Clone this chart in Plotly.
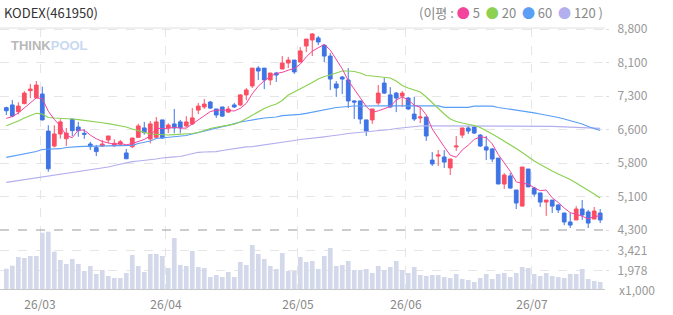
import plotly.graph_objects as go
from plotly.subplots import make_subplots
import pandas as pd

# ---------------- data ----------------
opens = [7040,7100,6950,7130,7420,7260,7345,6515,6180,6450,
         6345,6785,6605,6465,6225,6145,6180,6315,6185,6220,
         6025,6165,6375,6585,6340,6375,6765,6585,6675,6720,
         6630,6675,6985,7055,7165,7010,7055,6940,7100,7100,
         7325,7525,7925,7925,7660,7815,7905,8040,8105,8060,
         8420,8555,8600,8440,8195,7570,7725,7660,7190,7190,
         6765,6765,7145,7590,7325,7365,7300,7255,6895,6810,
         6830,5865,5955,5935,5690,6160,6425,6585,6605,6425,
         6160,6115,5910,5330,5510,5195,4835,5665,5240,5130,
         4925,4970,4860,4680,4480,4525,4770,4705,4545,4680]
highs = [7060,7210,7160,7410,7570,7635,7510,6645,6645,6780,
         6585,6785,6720,6560,6275,6205,6320,6405,6330,6315,
         6115,6360,6680,6720,6740,6830,6765,6690,7010,6765,
         6850,7030,7145,7235,7190,7010,7055,7075,7145,7345,
         7480,7925,7970,7925,7815,7840,8195,8175,8105,8395,
         8575,8710,8645,8440,8265,7635,7750,7925,7210,7190,
         6765,7010,7545,7705,7500,7390,7410,7280,7280,7055,
         6830,6045,6090,6090,5890,6405,6585,6630,6650,6450,
         6405,6135,5910,5575,5575,5195,5710,5665,5265,5130,
         4970,4970,4880,4680,4680,4835,4970,4750,4815,4770]
lows = [6875,6825,6890,7115,7250,7250,6755,5605,6150,6345,
        6180,6405,6390,6340,6090,5955,6165,6240,6165,6195,
        5890,6135,6375,6435,6240,6340,6340,6470,6465,6465,
        6595,6650,6895,7010,7010,6810,6830,6920,7030,7075,
        7210,7480,7660,7455,7545,7615,7905,7925,7795,8060,
        8285,8195,8440,8060,7435,7280,7345,7030,6785,6675,
        6405,6675,7100,7345,7030,6940,7055,6985,6740,6695,
        6295,5735,5735,5690,5530,6070,6360,6450,6450,6160,
        5865,5820,5330,5220,5220,4770,4835,5265,5040,4815,
        4615,4680,4680,4410,4345,4525,4525,4345,4545,4455]
closes = [6970,6850,7075,7365,7455,7545,6765,5670,6450,6720,
          6470,6525,6525,6445,6165,6055,6225,6405,6240,6275,
          5895,6360,6630,6480,6675,6720,6360,6650,6585,6590,
          6720,6810,7075,7120,7030,6875,6850,7010,7055,7325,
          7435,7925,7860,7660,7815,7770,8040,8105,7840,8310,
          8575,8690,8510,8195,7680,7480,7680,7190,7165,6785,
          6515,7010,7365,7365,7055,7255,7365,7010,6785,6830,
          6405,5780,5980,5820,5890,6180,6585,6515,6470,6180,
          6090,5890,5330,5530,5240,4905,5710,5265,5105,4925,
          4970,4835,4750,4480,4410,4770,4635,4455,4725,4525]
volume_k = [2144,2360,2988,2916,3060,3060,4741,4813,3370,2771,
            2483,2843,2483,1978,2339,1761,2050,1617,1473,1473,
            1834,3132,2339,1906,3204,3204,3060,2194,4359,2411,
            2339,3420,2267,2194,1545,1689,1545,1906,1545,2627,
            2411,3853,3204,2843,2339,2122,3276,1978,1978,2988,
            2627,2699,2122,3060,3636,2339,2411,2699,2050,2050,
            2122,1834,2339,2050,2267,2699,2050,1834,2267,1689,
            1617,1689,1689,1545,1473,1761,1401,1329,1185,1473,
            1761,1401,1761,1834,1545,1834,2267,2194,1761,1617,
            1834,1617,1545,1473,1761,1761,2122,1401,1257,1185]
ma5_head = [6800,6840,6920,7030]
ma20 = [6635,6685,6740,6808,6864,6913,6897,6819,6808,6803,
        6801,6785,6770,6756,6740,6718,6702,6680,6658,6635,
        6606,6561,6517,6487,6449,6438,6427,6427,6434,6438,
        6445,6461,6483,6528,6573,6600,6624,6646,6669,6718,
        6796,6864,6942,7020,7076,7121,7199,7323,7390,7457,
        7535,7603,7681,7737,7770,7815,7860,7860,7849,7815,
        7759,7748,7737,7726,7703,7636,7535,7479,7435,7390,
        7278,7144,7009,6897,6785,6729,6696,6673,6640,6595,
        6528,6449,6371,6293,6214,6125,6035,5934,5845,5766,
        5688,5621,5554,5493,5431,5352,5274,5196,5106,5017]
ma60 = [5928,5952,5979,6001,6031,6057,6102,6109,6114,6120,
        6147,6165,6169,6174,6176,6181,6181,6185,6187,6192,
        6194,6196,6237,6270,6293,6349,6360,6371,6382,6389,
        6416,6449,6483,6528,6550,6584,6613,6644,6685,6718,
        6741,6763,6796,6808,6819,6830,6859,6864,6875,6890,
        6913,6942,6971,6998,7020,7043,7054,7070,7076,7076,
        7081,7081,7081,7081,7081,7081,7081,7081,7081,7081,
        7081,7081,7081,7047,7047,7047,7047,7047,7072,7072,
        7072,7072,7043,7025,7009,6987,6964,6942,6924,6897,
        6875,6848,6819,6785,6752,6718,6673,6617,6573,6528]
ma120 = [5368,5388,5408,5428,5449,5464,5487,5505,5520,5538,
         5565,5583,5599,5621,5643,5661,5681,5711,5744,5778,
         5807,5829,5845,5858,5867,5890,5912,5930,5939,5946,
         5979,6013,6040,6046,6049,6053,6080,6102,6125,6147,
         6163,6169,6187,6203,6221,6237,6259,6282,6304,6326,
         6338,6349,6371,6387,6405,6416,6438,6461,6472,6483,
         6494,6510,6528,6539,6550,6573,6588,6606,6617,6629,
         6633,6633,6633,6633,6633,6633,6633,6633,6633,6633,
         6633,6633,6633,6629,6629,6629,6629,6629,6629,6629,
         6629,6622,6615,6608,6604,6599,6595,6588,6584,6577]
month_start_idx = [6, 27, 49, 67, 88]
month_labels = ["26/03", "26/04", "26/05", "26/06", "26/07"]
price_ticks = [4300, 5050, 5800, 6550, 7300, 8050, 8800]
price_tick_text = ["4,300", "5,100", "5,800", "6,600", "7,300", "8,100", "8,800"]
vol_ticks = [1978, 3421]
vol_tick_text = ["1,978", "3,421"]
title_text = "KODEX(461950)"

# ---------------- styles ----------------
RED = "#fc4e62"
BLUE = "#3f74e6"
C5, C20, C60, C120 = "#f2449c", "#8cd152", "#5a9ef6", "#b3aeee"
VOLC = "#d3d8ea"
GRID = "#e6e6e6"
FONT = "Noto Sans CJK KR"

x = list(range(len(closes)))
ma5 = pd.Series(closes, dtype=float).rolling(5).mean()
ma5.iloc[:4] = ma5_head

fig = make_subplots(rows=2, cols=1, shared_xaxes=True, vertical_spacing=0)

for vals, col in [(ma120, C120), (ma60, C60), (ma20, C20)]:
    fig.add_trace(go.Scatter(x=x, y=vals, mode="lines", line=dict(color=col, width=1.2),
                             hoverinfo="skip"), row=1, col=1)
fig.add_trace(go.Scatter(x=x, y=ma5, mode="lines", line=dict(color=C5, width=1),
                         hoverinfo="skip"), row=1, col=1)
fig.add_trace(go.Candlestick(x=x, open=opens, high=highs, low=lows, close=closes,
                             increasing=dict(line=dict(color=RED, width=1), fillcolor=RED),
                             decreasing=dict(line=dict(color=BLUE, width=1), fillcolor=BLUE),
                             whiskerwidth=0), row=1, col=1)
fig.add_trace(go.Bar(x=x, y=volume_k, marker=dict(color=VOLC, line=dict(width=0)),
                     width=0.78), row=2, col=1)

L, R, T, B = 0, 68, 28, 26
ph = 315 - T - B
split = (289 - 230) / ph
tickpos = [i - 0.38 for i in month_start_idx]

fig.update_layout(
    width=673, height=315, margin=dict(l=L, r=R, t=T, b=B),
    paper_bgcolor="white", plot_bgcolor="white", showlegend=False,
    boxgap=0.38, boxgroupgap=0,
    font=dict(family=FONT, color="#999"),
    xaxis=dict(range=[-1.05, 99.8], rangeslider=dict(visible=False), showticklabels=False,
               tickvals=tickpos, showgrid=True, gridcolor=GRID, griddash="dash", zeroline=False),
    xaxis2=dict(range=[-1.05, 99.8], tickvals=tickpos, ticktext=month_labels, showgrid=True,
                gridcolor=GRID, griddash="dash", zeroline=False, showline=True, linecolor="#c8c8c8",
                ticks="", ticklabelstandoff=5,
                tickfont=dict(size=12, color="#888", family=FONT)),
    yaxis=dict(domain=[split, 1], range=[4300, 8823], side="right", tickvals=price_ticks,
               ticktext=price_tick_text, showgrid=True, gridcolor=GRID, griddash="dash",
               zeroline=False, ticks="outside", ticklen=3, tickcolor="#ddd",
               ticklabelstandoff=6, tickfont=dict(size=12, color="#999", family=FONT)),
    yaxis2=dict(domain=[0, split], range=[679, 4935], side="right", tickvals=vol_ticks,
                ticktext=vol_tick_text, showgrid=True, gridcolor=GRID, griddash="dash",
                zeroline=False, ticks="outside", ticklen=3, tickcolor="#ddd",
                ticklabelstandoff=6, tickfont=dict(size=12, color="#999", family=FONT)),
)

# separator (4,300 line) and top border
fig.add_shape(type="line", xref="paper", yref="paper", x0=0, x1=1, y0=split, y1=split,
              line=dict(color="#9a9a9a", width=1, dash="dash"))
fig.add_shape(type="line", xref="paper", yref="paper", x0=0, x1=1, y0=1, y1=1,
              line=dict(color="#e0e0e0", width=1))

# texts
fig.add_annotation(xref="paper", yref="paper", x=0, y=1, xanchor="left", yanchor="middle",
                   xshift=2, yshift=16, showarrow=False, text=title_text,
                   font=dict(size=13, color="#333", family=FONT))
legend_html = ("(이평 : <span style='color:%s'>●</span> 5  <span style='color:%s'>●</span> 20  "
               "<span style='color:%s'>●</span> 60  <span style='color:%s'>●</span> 120 )"
               % (C5, C20, C60, C120))
fig.add_annotation(xref="paper", yref="paper", x=1, y=1, xanchor="right", yanchor="middle",
                   yshift=16, showarrow=False, text=legend_html,
                   font=dict(size=13, color="#888", family=FONT))
fig.add_annotation(xref="paper", yref="paper", x=0, y=1, xanchor="left", yanchor="middle",
                   xshift=9, yshift=-17, showarrow=False,
                   text="<b><span style='color:#b9b9b9'>THINK</span><span style='color:#c9d9f0'>POOL</span></b>",
                   font=dict(size=13, family="Liberation Sans"))
fig.add_annotation(xref="paper", yref="paper", x=1, y=0, xanchor="left", yanchor="middle",
                   xshift=12, showarrow=False, text="x1,000",
                   font=dict(size=12, color="#999", family=FONT))

fig.write_html("out.html")
